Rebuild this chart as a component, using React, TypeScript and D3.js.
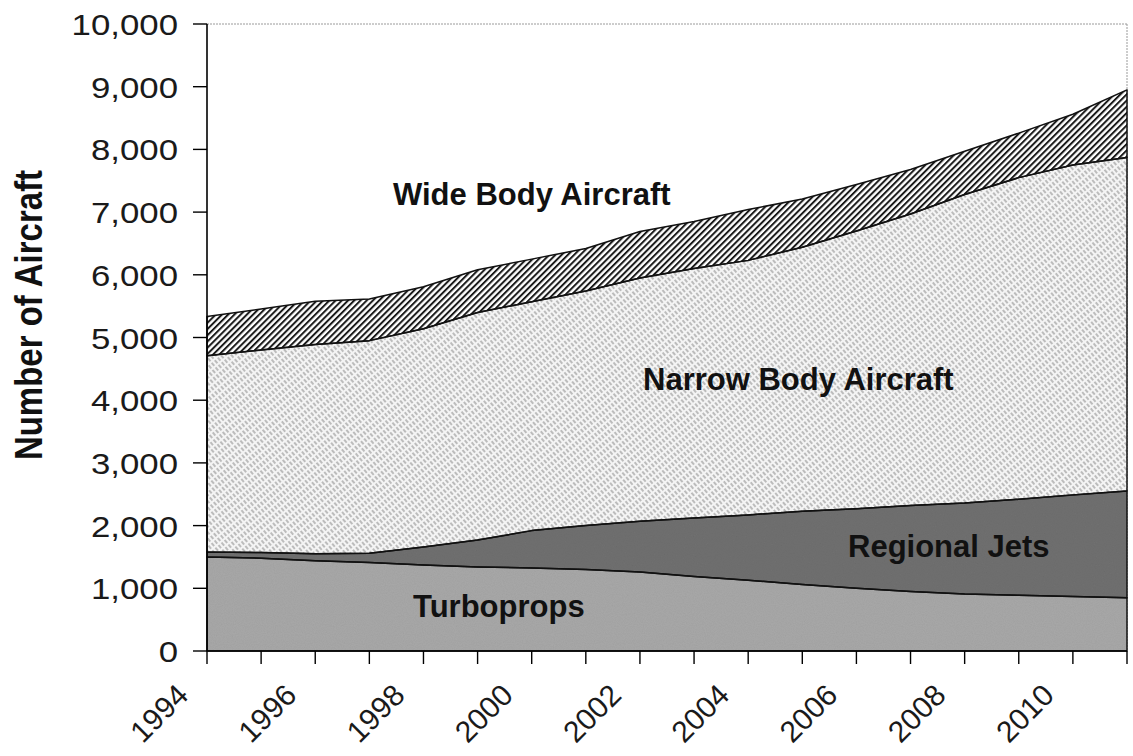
import React from "react";
import * as d3 from "d3";

const years = [1994,1995,1996,1997,1998,1999,2000,2001,2002,2003,2004,2005,2006,2007,2008,2009,2010,2011];
const turboprops = [1500,1480,1440,1410,1370,1340,1325,1300,1260,1190,1130,1060,1000,950,910,890,870,850];
const regionalJets = [80,90,110,150,290,430,595,700,810,930,1040,1170,1270,1370,1450,1530,1620,1700];
const narrowBody = [3130,3230,3340,3390,3480,3630,3650,3740,3880,3980,4060,4210,4430,4650,4920,5130,5260,5320];
const wideBody = [625,655,690,665,670,680,680,680,740,750,810,770,740,710,690,710,810,1080];
const seriesKeys = ["tp", "rj", "nb", "wb"];
const yTicks = [0,1000,2000,3000,4000,5000,6000,7000,8000,9000,10000];
const xLabelYears = [1994,1996,1998,2000,2002,2004,2006,2008,2010];
const areaLabels = [
  { text: "Wide Body Aircraft", x: 393, y: 205 },
  { text: "Narrow Body Aircraft", x: 643, y: 390 },
  { text: "Regional Jets", x: 848, y: 557 },
  { text: "Turboprops", x: 413, y: 617 },
];

const W = 1133, H = 756;
const L = 207, R = 1127, T = 24, B = 651;

export default function App() {
  const x = d3.scaleLinear().domain([1994, 2011]).range([L, R]);
  const y = d3.scaleLinear().domain([0, 10000]).range([B, T]);
  const rows = years.map((yr, i) => ({ year: yr, tp: turboprops[i], rj: regionalJets[i], nb: narrowBody[i], wb: wideBody[i] }));
  const stacked = d3.stack<any>().keys(seriesKeys)(rows);
  const area = d3.area<any>().x((d) => x(d.data.year)).y0((d) => y(d[0])).y1((d) => y(d[1]));
  const fills: Record<string, string> = { tp: "#a8a8a8", rj: "#707070", nb: "url(#nbPat)", wb: "url(#wbPat)" };
  const font = "'Liberation Sans', Arial, sans-serif";

  return (
    <svg width={W} height={H} style={{ position: "absolute", left: 0, top: 0, background: "#fff" }}>
      <defs>
        <pattern id="wbPat" width="4.4" height="4.4" patternUnits="userSpaceOnUse" patternTransform="rotate(45)">
          <rect width="4.4" height="4.4" fill="#ffffff" />
          <line x1="1" y1="0" x2="1" y2="4.4" stroke="#1a1a1a" strokeWidth="2" />
        </pattern>
        <pattern id="nbPat" width="4" height="6" patternUnits="userSpaceOnUse" patternTransform="rotate(-40)">
          <rect width="4" height="6" fill="#f4f4f4" />
          <line x1="1" y1="0" x2="1" y2="4" stroke="#8e8e8e" strokeWidth="1.1" />
        </pattern>
        <filter id="grain" x="0" y="0" width="100%" height="100%">
          <feTurbulence type="fractalNoise" baseFrequency="0.9" numOctaves="2" seed="3" result="n" />
          <feColorMatrix type="saturate" values="0" in="n" result="g" />
          <feComponentTransfer in="g" result="ga">
            <feFuncA type="linear" slope="0.18" />
          </feComponentTransfer>
          <feComposite in="ga" in2="SourceGraphic" operator="in" result="gc" />
          <feBlend in="SourceGraphic" in2="gc" mode="multiply" />
        </filter>
      </defs>

      <line x1={L} y1={T} x2={R} y2={T} stroke="#9a9a9a" strokeWidth={1} strokeDasharray="2,1" />
      <line x1={R} y1={T} x2={R} y2={B} stroke="#9a9a9a" strokeWidth={1} strokeDasharray="2,1" />

      {stacked.map((s) => (
        <path key={s.key} d={area(s) || ""} fill={fills[s.key]}
          filter={s.key === "tp" || s.key === "rj" ? "url(#grain)" : undefined} />
      ))}
      {stacked.map((s) => (
        <path key={"o" + s.key} d={area(s) || ""} fill="none" stroke="#111" strokeWidth={1.5} strokeLinejoin="round" />
      ))}

      <line x1={L} y1={T} x2={L} y2={B} stroke="#000" strokeWidth={1.6} />
      <line x1={L} y1={B} x2={R} y2={B} stroke="#000" strokeWidth={1.6} />
      {yTicks.map((t) => (
        <g key={"y" + t}>
          <line x1={L - 14} x2={L} y1={y(t)} y2={y(t)} stroke="#000" strokeWidth={1.4} />
          <text transform={`translate(${L - 29},${y(t) + 11}) scale(1.16,1)`} textAnchor="end"
            fontFamily={font} fontSize={30} fill="#1a1a1a">{d3.format(",")(t)}</text>
        </g>
      ))}
      {years.map((yr) => (
        <line key={"xt" + yr} x1={x(yr)} x2={x(yr)} y1={B} y2={B + 13} stroke="#000" strokeWidth={1.4} />
      ))}
      {xLabelYears.map((yr) => (
        <text key={"xl" + yr} transform={`translate(${x(yr) - 17},${697}) rotate(-45)`} textAnchor="end"
          fontFamily={font} fontSize={30} fill="#1a1a1a">{yr}</text>
      ))}

      <text transform={`translate(42,315) scale(1.2,1) rotate(-90)`} textAnchor="middle"
        fontFamily={font} fontSize={33} fontWeight="bold" fill="#111">Number of Aircraft</text>

      {areaLabels.map((lb) => (
        <text key={lb.text} x={lb.x} y={lb.y} fontFamily={font} fontSize={31} fontWeight="bold" fill="#111">{lb.text}</text>
      ))}
    </svg>
  );
}
